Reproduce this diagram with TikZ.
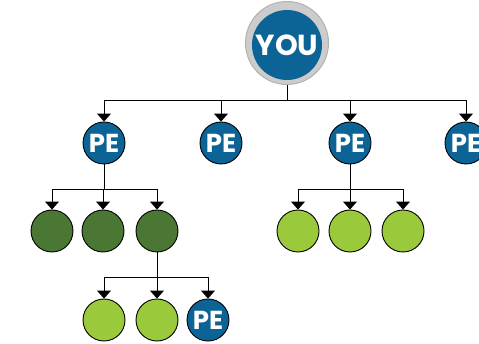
\documentclass[tikz,border=0pt]{standalone}
\usepackage{fontspec}
\newfontfamily\pf{Poppins}
\usetikzlibrary{arrows.meta}
\definecolor{peblue}{RGB}{12,99,150}
\definecolor{dgreen}{RGB}{75,119,52}
\definecolor{lgreen}{RGB}{154,202,60}
\definecolor{ringgray}{RGB}{204,204,204}
\definecolor{ringedge}{RGB}{178,178,178}
\begin{document}
\begin{tikzpicture}[x=1pt,y=-1pt,
  bubble/.style={circle, minimum size=42pt, inner sep=0pt, draw=black, line width=0.9pt},
  penode/.style={bubble, fill=peblue, text=white, font=\pf\bfseries\fontsize{26}{26}\selectfont},
  darkbub/.style={bubble, fill=dgreen},
  lightbub/.style={bubble, fill=lgreen},
  link/.style={line width=1pt},
  arr/.style={link, -{Triangle[width=14pt,length=8pt]}}
]
\useasboundingbox (0,0) rectangle (479,344);
\clip (0,0) rectangle (479,344);

% top node
\node[circle, minimum size=83pt, inner sep=0pt, fill=ringgray, draw=ringedge, line width=1pt] (ring) at (287,43) {};
\node[circle, minimum size=70pt, inner sep=0pt, fill=peblue, text=white, font=\pf\bfseries\fontsize{29}{29}\selectfont] (you) at (287,45) {YOU};

% PE row
\node[penode] (pe1) at (104,143) {PE};
\node[penode] (pe2) at (221,143) {PE};
\node[penode] (pe3) at (350,143) {PE};
\node[penode] (pe4) at (466,143) {PE};

% second row
\node[darkbub] (d1) at (52,231) {};
\node[darkbub] (d2) at (103,231) {};
\node[darkbub] (d3) at (157,231) {};
\node[lightbub] (g1) at (298,231) {};
\node[lightbub] (g2) at (350,231) {};
\node[lightbub] (g3) at (403,231) {};

% third row
\node[lightbub] (h1) at (104,320) {};
\node[lightbub] (h2) at (157,320) {};
\node[penode] (pe5) at (208,320) {PE};

% bus coordinates
\coordinate (b0) at (287,101);
\coordinate (b1) at (104,190);
\coordinate (b2) at (350,190);
\coordinate (b3) at (157,278);

% connectors from YOU
\draw[link] (ring.south) -- (b0);
\foreach \n in {pe1,pe2,pe3,pe4} \draw[arr] (b0) -| (\n.north);

% from pe1
\draw[link] (pe1.south) -- (b1);
\foreach \n in {d1,d2,d3} \draw[arr] (b1) -| (\n.north);

% from pe3
\draw[link] (pe3.south) -- (b2);
\foreach \n in {g1,g2,g3} \draw[arr] (b2) -| (\n.north);

% from d3
\draw[link] (d3.south) -- (b3);
\foreach \n in {h1,h2,pe5} \draw[arr] (b3) -| (\n.north);
\end{tikzpicture}
\end{document}
